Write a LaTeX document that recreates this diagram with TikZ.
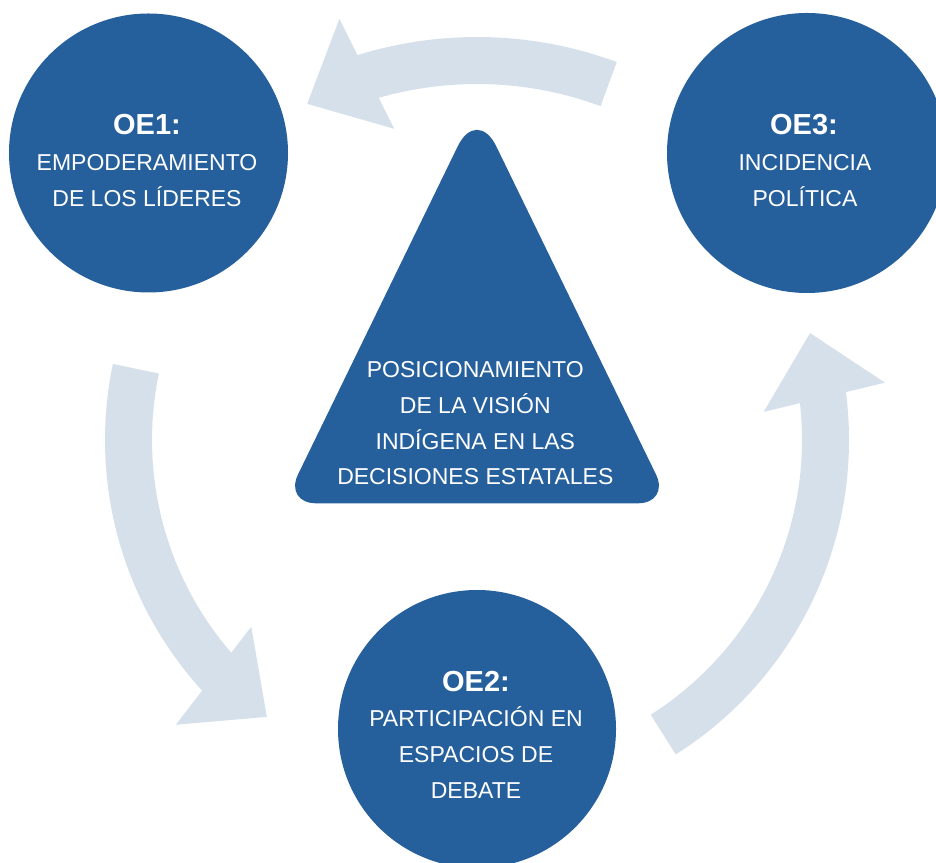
\documentclass[tikz,border=0pt]{standalone}
\usepackage{fontspec}
\setmainfont{Liberation Sans}
\definecolor{oeblue}{HTML}{26609C}
\definecolor{arrowc}{HTML}{D5E0EB}
\begin{document}
\begin{tikzpicture}[x=1pt,y=1pt,
  goal/.style={circle, fill=oeblue, minimum size=#1, inner sep=0pt},
  oetitle/.style={anchor=base, text=white, inner sep=0pt, font=\fontsize{29}{29}\selectfont\bfseries},
  oebody/.style={anchor=base, text=white, inner sep=0pt, font=\fontsize{23}{23}\selectfont},
  band/.style={fill=arrowc}]
\useasboundingbox (0,0) rectangle (936,862);
\clip (0,0) rectangle (936,862);

% cycle arrows
\begin{scope}[shift={(477,422)}]
  % top: OE3 -> OE1
  \fill[band] (69.7:403) arc[start angle=69.7, end angle=107.5, radius=403]
     -- (107.5:356) arc[start angle=107.5, end angle=69.7, radius=356] -- cycle;
  \fill[band] (108.1:443) -- (116.8:376.6) -- (104.9:322) -- cycle;
  % left: OE1 -> OE2
  \fill[band] (168.2:372) arc[start angle=168.2, end angle=223, radius=372]
     -- (223:325) arc[start angle=223, end angle=168.2, radius=325] -- cycle;
  \fill[band] (223.4:414.5) -- (232.8:347.6) -- (219.6:293) -- cycle;
  % right: OE2 -> OE3
  \fill[band] (-57.7:372) arc[start angle=-57.7, end angle=8, radius=372]
     -- (8:325) arc[start angle=8, end angle=-57.7, radius=325] -- cycle;
  \fill[band] (8:412) -- (17.8:349.8) -- (5.6:288) -- cycle;
\end{scope}

% circles
\node[goal=279pt] (oe1) at (148.5,709) {};
\node[goal=280pt] (oe3) at (807,709) {};
\node[goal=278pt] (oe2) at (477,133) {};

% central triangle
\fill[oeblue] (496.2,715.8) -- (656,387.5)
   .. controls (663.7,371.7) and (655.6,358.7) .. (638,358.7)
   -- (316,358.7)
   .. controls (298.4,358.7) and (290.3,371.7) .. (298,387.5)
   -- (457.8,715.8)
   .. controls (468.4,737.6) and (485.6,737.6) .. (496.2,715.8) -- cycle;

% texts
\node[oetitle] (oe1t) at (147,727) {OE1:};
\node[oebody] (oe1a) at (147,691.3) {EMPODERAMIENTO};
\node[oebody] (oe1b) at (147,655.3) {DE LOS LÍDERES};

\node[oetitle] (oe3t) at (804,727) {OE3:};
\node[oebody] (oe3a) at (805,691) {INCIDENCIA};
\node[oebody] (oe3b) at (805,655) {POLÍTICA};

\node[oetitle] (oe2t) at (476,171) {OE2:};
\node[oebody] (oe2a) at (476,135.3) {PARTICIPACIÓN EN};
\node[oebody] (oe2b) at (476,99.3) {ESPACIOS DE};
\node[oebody] (oe2c) at (476,64) {DEBATE};

\node[oebody] (tr1) at (475.3,484.7) {POSICIONAMIENTO};
\node[oebody] (tr2) at (475.3,448.7) {DE LA VISIÓN};
\node[oebody] (tr3) at (475.3,412.7) {INDÍGENA EN LAS};
\node[oebody] (tr4) at (475.3,377) {DECISIONES ESTATALES};
\end{tikzpicture}
\end{document}
